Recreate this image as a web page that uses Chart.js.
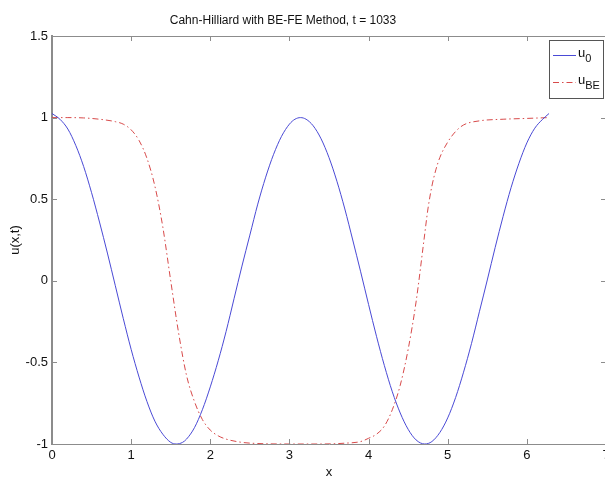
<!DOCTYPE html>
<html>
<head>
<meta charset="utf-8">
<script src="https://cdn.jsdelivr.net/npm/chart.js@4/dist/chart.umd.min.js"></script>
<style>
  html, body { margin: 0; padding: 0; background: #fff; overflow: hidden; }
  #wrap { width: 615px; height: 479px; position: relative; }
</style>
</head>
<body>
<div id="wrap"><canvas id="c" width="615" height="479"></canvas></div>
<script>
// ---- data ----
const titleText = "Cahn-Hilliard with BE-FE Method, t = 1033";
const xLabel = "x";
const yLabel = "u(x,t)";
const xTicks = [0, 1, 2, 3, 4, 5, 6, 7];
const yTicks = [-1, -0.5, 0, 0.5, 1, 1.5];

const xU0 = [0, 0.1, 0.2, 0.3, 0.4, 0.5, 0.6, 0.7, 0.8, 0.9, 1.0, 1.1, 1.2, 1.3, 1.4, 1.5, 1.57, 1.65, 1.7, 1.8, 1.9,
  2.0, 2.1, 2.2, 2.3, 2.4, 2.5, 2.6, 2.7, 2.8, 2.9, 3.0, 3.07, 3.14, 3.21, 3.3, 3.4, 3.5, 3.6, 3.7, 3.8, 3.9,
  4.0, 4.1, 4.2, 4.3, 4.4, 4.5, 4.6, 4.71, 4.8, 4.9, 5.0, 5.1, 5.2, 5.3, 5.4, 5.5, 5.6, 5.7, 5.8, 5.9,
  6.0, 6.1, 6.2, 6.28];
const yU0 = [1.025, 0.99, 0.93, 0.83, 0.70, 0.54, 0.36, 0.17, -0.03, -0.23, -0.42, -0.59, -0.74, -0.86, -0.94, -0.99, -1.0, -0.99, -0.97, -0.90, -0.79,
  -0.65, -0.49, -0.31, -0.11, 0.09, 0.28, 0.47, 0.635, 0.775, 0.885, 0.96, 0.99, 1.0, 0.99, 0.95, 0.87, 0.755, 0.61, 0.44, 0.25, 0.055,
  -0.145, -0.34, -0.52, -0.68, -0.81, -0.91, -0.975, -1.0, -0.985, -0.93, -0.84, -0.715, -0.56, -0.385, -0.19, 0.005, 0.205, 0.395, 0.57, 0.72,
  0.845, 0.935, 0.99, 1.025];

const xBE = [0, 0.2, 0.4, 0.6, 0.8, 0.9, 1.0, 1.1, 1.2, 1.3, 1.4, 1.5, 1.6, 1.7, 1.8, 1.9, 2.0, 2.1, 2.2, 2.4, 2.6, 3.0, 3.4,
  3.7, 3.9, 4.0, 4.1, 4.2, 4.3, 4.4, 4.5, 4.6, 4.7, 4.75, 4.8, 4.85, 4.9, 5.0, 5.1, 5.2, 5.4, 5.7, 6.0, 6.28];
const yBE = [1.0, 1.0, 0.998, 0.99, 0.975, 0.96, 0.925, 0.86, 0.75, 0.58, 0.33, 0.0, -0.32, -0.58, -0.74, -0.85, -0.915, -0.95, -0.97, -0.99, -0.997, -1.0, -1.0,
  -0.995, -0.985, -0.965, -0.94, -0.89, -0.79, -0.64, -0.42, -0.13, 0.25, 0.44, 0.58, 0.68, 0.755, 0.85, 0.915, 0.955, 0.98, 0.99, 0.995, 1.0];

const seriesNames = ["u", "u"];
const seriesSubs = ["0", "BE"];

// ---- chart ----
const AXIS = "#8c8c8c";
const FONT = "'Liberation Sans', Arial, Helvetica, sans-serif";
const COLORS = ["#4a4ad6", "#d84a4a"];
const DASHES = [[], [6, 3, 1.5, 3]];

const pts = (xs, ys) => xs.map((x, i) => ({ x: x, y: ys[i] }));

const decor = {
  id: "decor",
  beforeDraw(chart) {
    const ctx = chart.ctx;
    ctx.save();
    ctx.fillStyle = "#fff";
    ctx.fillRect(0, 0, chart.width, chart.height);
    ctx.restore();
  },
  afterDraw(chart) {
    const ctx = chart.ctx;
    const a = chart.chartArea;
    const xs = chart.scales.x, ys = chart.scales.y;
    ctx.save();
    // box: top & right
    ctx.strokeStyle = AXIS;
    ctx.lineWidth = 1;
    ctx.beginPath();
    ctx.moveTo(a.left, a.top + 0.5); ctx.lineTo(a.right, a.top + 0.5);
    ctx.moveTo(a.right - 0.5, a.top); ctx.lineTo(a.right - 0.5, a.bottom);
    ctx.stroke();
    // inward ticks
    ctx.beginPath();
    xTicks.forEach(v => {
      const px = Math.round(xs.getPixelForValue(v)) + 0.5;
      ctx.moveTo(px, a.bottom); ctx.lineTo(px, a.bottom - 5);
      ctx.moveTo(px, a.top); ctx.lineTo(px, a.top + 5);
    });
    yTicks.forEach(v => {
      const py = Math.round(ys.getPixelForValue(v)) + 0.5;
      ctx.moveTo(a.left, py); ctx.lineTo(a.left + 5, py);
      ctx.moveTo(a.right, py); ctx.lineTo(a.right - 5, py);
    });
    ctx.stroke();
    // title
    ctx.fillStyle = "#111";
    ctx.font = "12px " + FONT;
    ctx.textAlign = "center";
    ctx.textBaseline = "middle";
    ctx.fillText(titleText, 283, 21);
    // x label
    ctx.font = "13px " + FONT;
    ctx.fillText(xLabel, (a.left + a.right) / 2, 472);
    // y label
    ctx.save();
    ctx.translate(15, (a.top + a.bottom) / 2);
    ctx.rotate(-Math.PI / 2);
    ctx.fillText(yLabel, 0, 0);
    ctx.restore();
    // legend
    const lx = 549, ly = 40, lw = 54, lh = 58;
    ctx.fillStyle = "#fff";
    ctx.fillRect(lx, ly, lw, lh);
    ctx.strokeStyle = "#555";
    ctx.lineWidth = 1;
    ctx.strokeRect(lx + 0.5, ly + 0.5, lw, lh);
    const rows = [55.5, 82.5];
    for (let i = 0; i < 2; i++) {
      ctx.strokeStyle = COLORS[i];
      ctx.lineWidth = 1;
      ctx.setLineDash(DASHES[i]);
      ctx.beginPath();
      ctx.moveTo(553, rows[i]); ctx.lineTo(576, rows[i]);
      ctx.stroke();
      ctx.setLineDash([]);
      ctx.fillStyle = "#111";
      ctx.textAlign = "left";
      ctx.textBaseline = "alphabetic";
      ctx.font = "13px " + FONT;
      ctx.fillText(seriesNames[i], 578, rows[i] + 1);
      const w = ctx.measureText(seriesNames[i]).width;
      ctx.font = "11px " + FONT;
      ctx.fillText(seriesSubs[i], 578 + w, rows[i] + 6);
    }
    ctx.restore();
  }
};

new Chart(document.getElementById("c"), {
  type: "scatter",
  data: {
    datasets: [
      { label: "u0", data: pts(xU0, yU0), showLine: true, borderColor: COLORS[0], borderWidth: 1,
        pointRadius: 0, cubicInterpolationMode: "monotone", fill: false },
      { label: "uBE", data: pts(xBE, yBE), showLine: true, borderColor: COLORS[1], borderWidth: 1,
        borderDash: DASHES[1], pointRadius: 0, cubicInterpolationMode: "monotone", fill: false }
    ]
  },
  options: {
    responsive: false,
    animation: false,
    devicePixelRatio: 1,
    layout: { padding: { top: 36, right: 9, left: 0, bottom: 0 } },
    plugins: { legend: { display: false }, title: { display: false }, tooltip: { enabled: false } },
    scales: {
      x: {
        type: "linear", min: 0, max: 7,
        afterFit: s => { s.height = 35; },
        afterBuildTicks: s => { s.ticks = xTicks.map(v => ({ value: v })); },
        grid: { display: false, drawTicks: false },
        border: { display: true, color: AXIS, width: 1 },
        ticks: { color: "#111", font: { family: FONT, size: 13 }, padding: 4, maxRotation: 0,
                 callback: v => String(v) }
      },
      y: {
        type: "linear", min: -1, max: 1.5,
        afterFit: s => { s.width = 52; },
        afterBuildTicks: s => { s.ticks = yTicks.map(v => ({ value: v })); },
        grid: { display: false, drawTicks: false },
        border: { display: true, color: AXIS, width: 2 },
        ticks: { color: "#111", font: { family: FONT, size: 13 }, padding: 4,
                 callback: v => String(v) }
      }
    }
  },
  plugins: [decor]
});
</script>
</body>
</html>
